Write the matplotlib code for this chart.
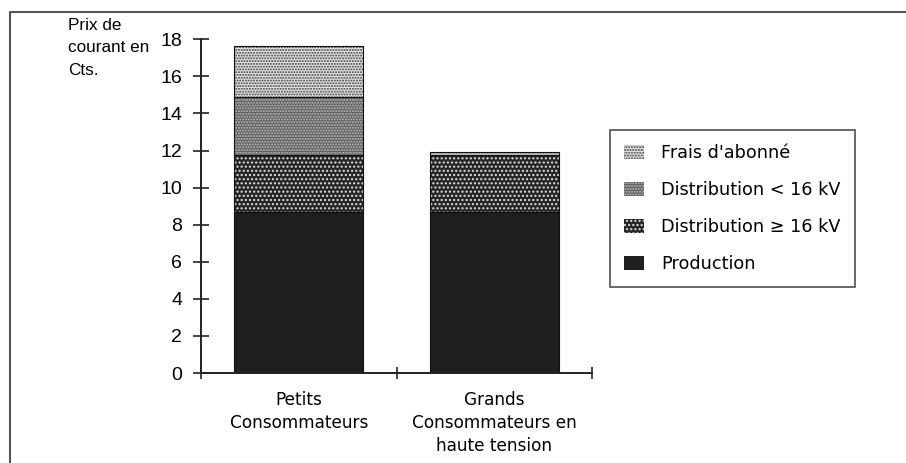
import matplotlib
matplotlib.use("Agg")
import matplotlib.pyplot as plt
from matplotlib.patches import Patch
from matplotlib.lines import Line2D
import numpy as np

categories = ["Petits\nConsommateurs", "Grands\nConsommateurs en\nhaute tension"]
series_names = ["Production", "Distribution \u2265 16 kV", "Distribution < 16 kV", "Frais d'abonn\u00e9"]
production = [8.7, 8.7]
dist_ge16 = [3.05, 3.05]
dist_lt16 = [3.15, 0.0]
frais = [2.75, 0.15]
yticks = [0, 2, 4, 6, 8, 10, 12, 14, 16, 18]

series_values = [production, dist_ge16, dist_lt16, frais]
faces = ["#1f1f1f", "#262626", "#5e5e5e", "#e6e6e6"]
hatch_cols = ["#1f1f1f", "#e0e0e0", "#c0c0c0", "#3a3a3a"]
hatches = [None, "....", "......", "......"]

plt.rcParams["hatch.linewidth"] = 1.0

fig = plt.figure(figsize=(9.06, 4.63), dpi=100)
ax = fig.add_axes([201/906, 1-373/463, 391/906, 333.7/463])

x = np.array([0.5, 1.5])
bottom = np.zeros(2)
for vals, fc, hc, h in zip(series_values, faces, hatch_cols, hatches):
    vals = np.array(vals)
    ax.bar(x, vals, width=0.66, bottom=bottom, color=fc, edgecolor=hc, hatch=h, linewidth=0)
    ax.bar(x, vals, width=0.66, bottom=bottom, fill=False, edgecolor="#111111", linewidth=0.8)
    bottom += vals

ax.set_xlim(0, 2)
ax.set_ylim(0, 18)
ax.set_yticks(yticks)
ax.set_yticklabels([str(t) for t in yticks], fontfamily="Liberation Sans", fontsize=14)
ax.set_xticks([0, 1, 2])
ax.set_xticklabels([])
ax.set_xticks(x, minor=True)
ax.set_xticklabels(categories, minor=True, fontfamily="DejaVu Sans", fontsize=12.2, linespacing=1.35)
ax.tick_params(axis="x", which="minor", length=0, pad=13)
ax.tick_params(axis="x", which="major", direction="inout", length=8, width=1.2, color="#222222")
ax.tick_params(axis="y", direction="inout", length=11, width=1.2, color="#222222", pad=8)
for s in ["top", "right"]:
    ax.spines[s].set_visible(False)
for s in ["left", "bottom"]:
    ax.spines[s].set_linewidth(1.4)
    ax.spines[s].set_color("#222222")

fig.text(68/906, 1-18/463, "Prix de\ncourant en\nCts.", ha="left", va="top",
         fontfamily="Liberation Sans", fontsize=12.3, linespacing=1.62)

# outer frame
fig.add_artist(Line2D([10/906, 10/906, 1.0], [0.0, 1-12/463, 1-12/463],
                      transform=fig.transFigure, color="#555555", linewidth=1.5))

handles = []
for fc, hc, h in zip(faces, hatch_cols, hatches):
    handles.append(Patch(facecolor=fc, edgecolor=hc, hatch=h, linewidth=0))
leg = fig.legend(handles[::-1], series_names[::-1], loc="upper left",
                 bbox_to_anchor=(610/906, 1-130/463), borderaxespad=0,
                 frameon=True, fancybox=False, edgecolor="#222222",
                 prop={"family": "DejaVu Sans", "size": 12.7},
                 handlelength=1.15, handleheight=0.8, handletextpad=0.95,
                 labelspacing=1.08, borderpad=0.8)
leg.get_frame().set_linewidth(1.2)

fig.savefig("out.png", dpi=100)
